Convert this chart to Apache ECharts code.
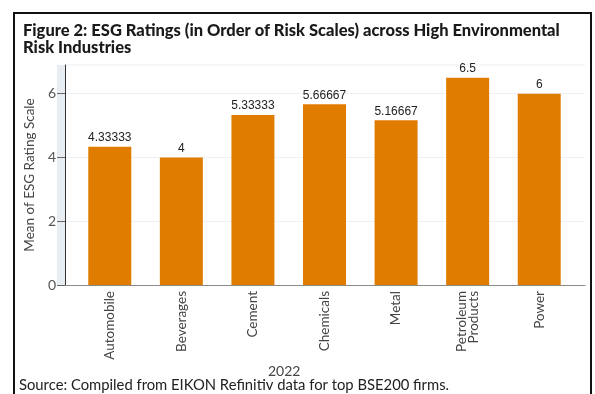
<!DOCTYPE html>
<html>
<head>
<meta charset="utf-8">
<script src="https://cdn.jsdelivr.net/npm/echarts@6/dist/echarts.min.js"></script>
<style>
  html, body { margin: 0; padding: 0; background: #fff; }
  #main { width: 595px; height: 394px; }
</style>
</head>
<body>
<div id="main"></div>
<script>
// industries and mean ratings
var industries = ['Automobile', 'Beverages', 'Cement', 'Chemicals', 'Metal', 'Petroleum\nProducts', 'Power'];
var meanRating = [4.33333, 4, 5.33333, 5.66667, 5.16667, 6.5, 6];
var yTicks = [0, 2, 4, 6];

var chart = echarts.init(document.getElementById('main'), null, { renderer: 'canvas' });

var labelFont = 'Lato, "Open Sans", sans-serif';

var option = {
  animation: false,
  backgroundColor: '#fff',
  title: {
    text: 'Figure 2: ESG Ratings (in Order of Risk Scales) across High Environmental\nRisk Industries',
    left: 18,
    top: 17,
    textStyle: {
      fontFamily: labelFont,
      fontWeight: 900,
      fontSize: 16.5,
      lineHeight: 17,
      color: '#1a1a1a'
    }
  },
  grid: [
    // outer plot region: y axis, gridlines, x axis line
    { left: 65, right: 10, top: 65, bottom: 109 },
    // bar region, inset a bit from the axes
    { left: 74, right: 20, top: 65, bottom: 109 }
  ],
  xAxis: [
    {
      gridIndex: 0,
      type: 'value',
      min: 0,
      max: 1,
      axisLine: { show: true, lineStyle: { color: '#8a8a8a', width: 1 } },
      axisTick: { show: false },
      axisLabel: { show: false },
      splitLine: { show: false }
    },
    {
      gridIndex: 1,
      type: 'category',
      data: industries,
      axisLine: { show: false },
      axisTick: { show: false },
      axisLabel: {
        rotate: 90,
        margin: 6,
        fontFamily: labelFont,
        fontSize: 13.5,
        lineHeight: 12,
        color: '#444'
      }
    }
  ],
  yAxis: [
    {
      gridIndex: 0,
      type: 'value',
      min: 0,
      max: 6.9,
      interval: 2,
      name: 'Mean of ESG Rating Scale',
      nameLocation: 'middle',
      nameGap: 27,
      nameTextStyle: { fontFamily: labelFont, fontSize: 13.5, color: '#444' },
      axisLine: { show: true, lineStyle: { color: '#333', width: 1 } },
      axisTick: { show: true, length: 8, lineStyle: { color: '#666' }, customValues: yTicks },
      axisLabel: {
        margin: 9,
        fontFamily: labelFont,
        fontSize: 14,
        color: '#555',
        customValues: yTicks
      },
      splitLine: { show: true, lineStyle: { color: '#eef1f4', width: 1 } }
    },
    {
      gridIndex: 1,
      type: 'value',
      min: 0,
      max: 6.9,
      show: false
    }
  ],
  series: [{
    type: 'bar',
    xAxisIndex: 1,
    yAxisIndex: 1,
    data: meanRating,
    barWidth: 43,
    itemStyle: { color: '#e07c00' },
    label: {
      show: true,
      position: 'top',
      distance: 3,
      fontFamily: 'Liberation Sans, Arial, sans-serif',
      fontSize: 12,
      color: '#222',
      formatter: function (p) { return String(p.value); }
    }
  }],
  graphic: [
    // light strip left of the y axis
    { type: 'rect', z: -1, shape: { x: 57, y: 65, width: 8, height: 220 }, style: { fill: '#e6eef4' } },
    // faint top border of plot region
    { type: 'line', shape: { x1: 65, y1: 65, x2: 585, y2: 65 }, style: { stroke: '#eceff2', lineWidth: 1 } },
    // outer frame
    { type: 'rect', shape: { x: 14, y: 13, width: 577, height: 400 }, style: { fill: null, stroke: '#111', lineWidth: 2 } },
    {
      type: 'text', left: 268, top: 364,
      style: { text: '2022', font: '14px ' + labelFont, fill: '#444' }
    },
    {
      type: 'text', left: 19, top: 378,
      style: { text: 'Source: Compiled from EIKON Refinitiv data for top BSE200 firms.', font: '14.8px ' + labelFont, fill: '#222' }
    }
  ]
};

chart.setOption(option);
</script>
</body>
</html>
